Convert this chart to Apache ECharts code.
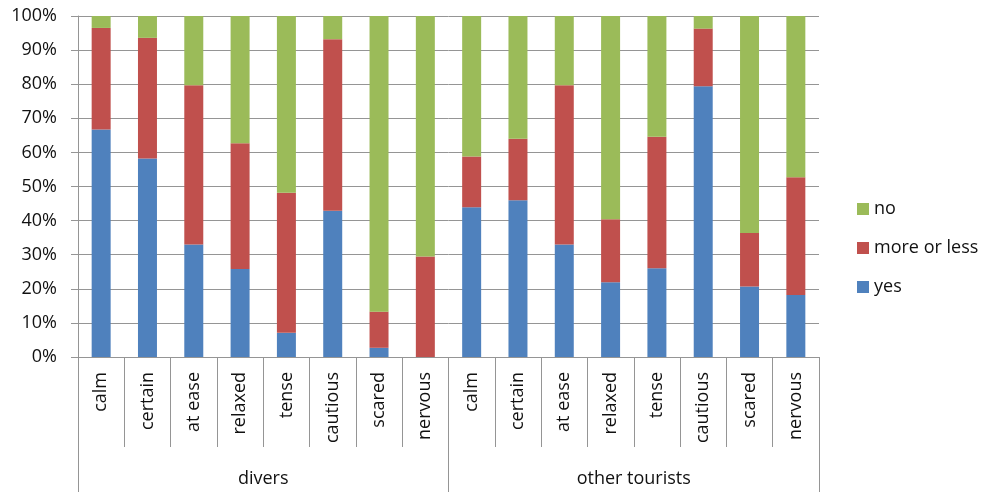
<!DOCTYPE html>
<html>
<head>
<meta charset="utf-8">
<script src="https://cdn.jsdelivr.net/npm/echarts@6/dist/echarts.min.js"></script>
<style>
  html, body { margin: 0; padding: 0; background: #fff; }
  #chart { width: 985px; height: 494px; }
</style>
</head>
<body>
<div id="chart"></div>
<script>
// Feelings reported by divers and other tourists (share of answers, %)
const feelings = ['calm', 'certain', 'at ease', 'relaxed', 'tense', 'cautious', 'scared', 'nervous'];
const groups = ['divers', 'other tourists'];
const categories = feelings.concat(feelings);

const yesValues = [66.7, 58.2, 33, 25.8, 7.1, 42.9, 2.7, 0,
                   43.9, 46, 33, 21.9, 26, 79.4, 20.7, 18.2];
const moreOrLessValues = [29.8, 35.4, 46.7, 36.9, 41.1, 50.3, 10.6, 29.5,
                          14.9, 18, 46.7, 18.5, 38.6, 16.9, 15.7, 34.5];
const noValues = [3.5, 6.4, 20.3, 37.3, 51.8, 6.8, 86.7, 70.5,
                  41.2, 36, 20.3, 59.6, 35.4, 3.7, 63.6, 47.3];

const yTicks = { min: 0, max: 100, interval: 10 };

const font = 'Open Sans';
const fontSize = 18;
const textColor = '#111';
const gridColor = '#959595';

const chart = echarts.init(document.getElementById('chart'), null, { renderer: 'canvas' });

chart.setOption({
  animation: false,
  textStyle: { fontFamily: font },
  grid: { left: 78, right: 166, top: 16, bottom: 137, containLabel: false },
  legend: {
    orient: 'vertical',
    left: 852,
    top: 195,
    itemGap: 21,
    itemWidth: 12,
    itemHeight: 12,
    icon: 'rect',
    data: ['no', 'more or less', 'yes'],
    textStyle: { fontFamily: font, fontSize: fontSize, color: textColor }
  },
  xAxis: [
    {
      type: 'category',
      data: categories,
      position: 'bottom',
      axisLine: { show: true, lineStyle: { color: gridColor, width: 1 } },
      axisTick: { show: true, interval: 0, length: 90, lineStyle: { color: gridColor } },
      axisLabel: { interval: 0, rotate: 90, margin: 15, fontSize: fontSize, color: textColor, fontFamily: font },
      splitLine: { show: false }
    },
    {
      type: 'category',
      data: groups,
      position: 'bottom',
      axisLine: { show: false },
      axisTick: { show: true, interval: 0, length: 135, lineStyle: { color: gridColor } },
      axisLabel: { interval: 0, margin: 113, fontSize: fontSize, color: textColor, fontFamily: font },
      splitLine: { show: false }
    }
  ],
  yAxis: {
    type: 'value',
    min: yTicks.min,
    max: yTicks.max,
    interval: yTicks.interval,
    axisLine: { show: true, lineStyle: { color: gridColor } },
    axisTick: { show: true, length: 7, lineStyle: { color: gridColor } },
    axisLabel: { formatter: '{value}%', fontSize: fontSize, color: textColor, margin: 21, fontFamily: font },
    splitLine: { show: true, lineStyle: { color: gridColor, width: 1 } }
  },
  series: [
    { name: 'yes', type: 'bar', stack: 'total', data: yesValues, barWidth: '41%', itemStyle: { color: '#4F81BD' } },
    { name: 'more or less', type: 'bar', stack: 'total', data: moreOrLessValues, itemStyle: { color: '#C0504D' } },
    { name: 'no', type: 'bar', stack: 'total', data: noValues, itemStyle: { color: '#9BBB59' } }
  ]
});
</script>
</body>
</html>
